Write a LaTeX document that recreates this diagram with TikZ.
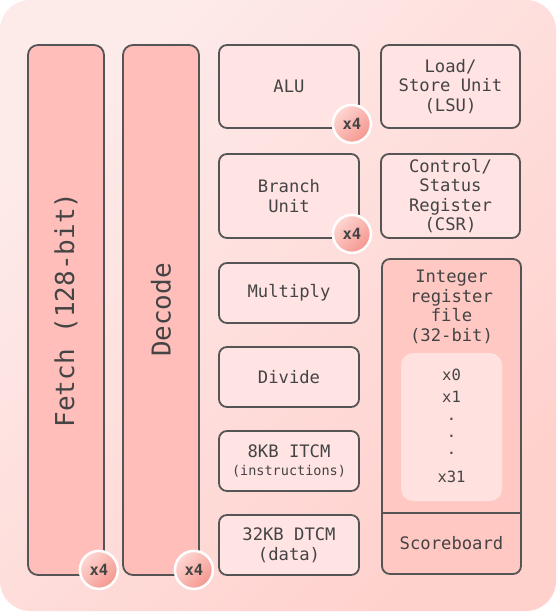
\documentclass[tikz,border=0pt]{standalone}
\usepackage{fontspec}
\newfontfamily\unitfont{DejaVu Sans Mono}
\usepackage{tikz}
\usetikzlibrary{calc,positioning}
\definecolor{bgtop}{HTML}{FDEBEA}
\definecolor{bgbottom}{HTML}{FFD1CD}
\definecolor{stagefill}{HTML}{FFBEB9}
\definecolor{unitfill}{HTML}{FFE4E3}
\definecolor{regfill}{HTML}{FFC8C3}
\definecolor{innerfill}{HTML}{FFE1DF}
\definecolor{edge}{HTML}{555555}
\definecolor{ink}{HTML}{444444}
\definecolor{badgelight}{HTML}{FFD6D2}
\definecolor{badgedark}{HTML}{F4978F}
\tikzstyle{stage}=[draw=edge,line width=1.8pt,fill=stagefill,rounded corners=10pt,rotate=90,minimum width=530pt,minimum height=76pt,inner sep=0pt,text=ink,font=\unitfont\fontsize{26}{30}\selectfont]
\tikzstyle{unit}=[draw=edge,line width=1.8pt,fill=unitfill,rounded corners=8pt,minimum width=140pt,inner sep=0pt,align=center,text=ink,font=\unitfont\fontsize{17.2}{19.5}\selectfont]
\tikzstyle{label}=[inner sep=0pt,align=center,text=ink,font=\unitfont\fontsize{17.2}{19.5}\selectfont]
\tikzstyle{reg}=[inner sep=0pt,text=ink,font=\unitfont\fontsize{15.5}{18}\selectfont]
\tikzstyle{badge}=[circle,draw=white,line width=2.5pt,top color=badgelight,bottom color=badgedark,shading angle=45,minimum size=38pt,inner sep=0pt,text=ink,font=\unitfont\bfseries\fontsize{15.5}{18}\selectfont]

\begin{document}
\begin{tikzpicture}[x=1pt,y=-1pt]
\useasboundingbox (0,0) rectangle (559,612);
\path[top color=bgtop,bottom color=bgbottom,shading angle=45,rounded corners=30pt] (0,0) rectangle (556,611);

\node [stage] (fetch) at (66,310) {Fetch (128-bit)};
\node [stage] (decode) at (161,310) {Decode};

\node [unit,minimum height=83pt] (alu) at (289,86.5) {ALU};
\node [unit,minimum width=139pt,minimum height=83pt] (lsu) at (450.5,86.5) {Load/\\Store Unit\\(LSU)};
\node [unit,minimum height=84pt] (branch) at (289,196) {Branch\\Unit};
\node [unit,minimum width=139pt,minimum height=84pt] (csr) at (450.5,196) {Control/\\Status\\Register\\(CSR)};
\node [unit,minimum height=60pt] (multiply) at (289,293) {Multiply};
\node [unit,minimum height=60pt] (divide) at (289,377) {Divide};
\node [unit,minimum height=60pt] (itcm) at (289,461) {8KB ITCM\\[-1pt]{\fontsize{13.5}{15}\selectfont(instructions)}};
\node [unit,minimum height=60pt] (dtcm) at (289,545) {32KB DTCM\\(data)};

\node [unit,fill=regfill,minimum width=139pt,minimum height=315pt] (regfile) at (451.5,416.5) {};
\coordinate (split) at (0,513);
\draw [draw=edge,line width=1.8pt] (regfile.west |- split) -- (regfile.east |- split);
\node [label] (regtitle) at (451.5,307) {Integer\\register\\file\\(32-bit)};
\node [fill=innerfill,rounded corners=12pt,minimum width=101pt,minimum height=148pt,inner sep=0pt] (regs) at (451.5,427) {};
\node [reg] (x0) at (451.5,375) {x0};
\node [reg] (x1) at (451.5,397) {x1};
\foreach \y [count=\i] in {419,436,453}
  \node [reg] (dot\i) at (451.5,\y) {.};
\node [reg] (x31) at (451.5,477) {x31};
\node [label] (scoreboard) at (451.5,543.5) {Scoreboard};

\node [badge] (aluX) at ($(alu.south east)+(-8,-5)$) {x4};
\node [badge] (branchX) at ($(branch.south east)+(-8,-5)$) {x4};
\node [badge] (fetchX) at ($(fetch.south west)+(-6,-6)$) {x4};
\node [badge] (decodeX) at ($(decode.south west)+(-6,-6)$) {x4};
\end{tikzpicture}
\end{document}
